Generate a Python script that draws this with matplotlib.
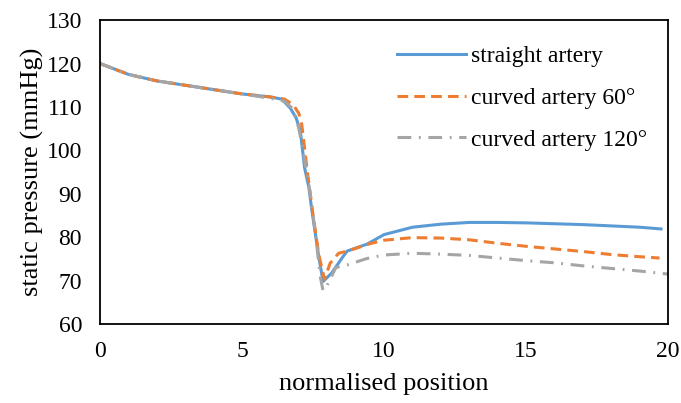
import matplotlib
matplotlib.use("Agg")
import matplotlib.pyplot as plt

# data
x_straight = [0, 1, 2, 3, 4, 5, 6, 6.4, 6.7, 6.9, 7.05, 7.2, 7.35, 7.45, 7.7, 7.85, 8.15, 8.55, 8.7,
              9.4, 10, 11, 12, 13, 14, 15, 16, 17, 18, 19, 19.75]
p_straight = [120, 117.5, 116, 115, 114, 113, 112.3, 111.8, 109.7, 107.5, 104.5, 96, 91.5, 86.5, 75.5, 69.8,
              71.7, 75.5, 76.8, 78.4, 80.6, 82.3, 83.0, 83.4, 83.4, 83.3, 83.1, 82.9, 82.6, 82.3, 81.9]

x_60 = [0, 1, 2, 3, 4, 5, 6, 6.5, 6.8, 7.0, 7.1, 7.3, 7.5, 7.7, 7.9, 8.1, 8.4, 8.8, 9.5, 10,
        11, 12, 13, 14, 15, 16, 17, 18, 19, 19.7]
p_60 = [120, 117.5, 116, 115, 114, 113, 112.3, 111.8, 110.5, 108.5, 106, 95, 85, 76, 70.3, 74, 76.3, 77,
        78.5, 79.3, 79.9, 79.8, 79.4, 78.6, 77.9, 77.3, 76.7, 76.0, 75.5, 75.2]

x_120 = [0, 1, 2, 3, 4, 5, 6, 6.5, 6.8, 7.0, 7.2, 7.4, 7.6, 7.75, 7.85, 8.0, 8.3, 8.7, 9.4, 10,
         11, 12, 13, 14, 15, 16, 17, 18, 19, 20]
p_120 = [120, 117.5, 116, 115, 114, 113, 112, 111.3, 109.5, 105, 98, 90, 80, 71, 67.7, 69, 73, 73.6,
         75.1, 75.9, 76.3, 76.1, 75.8, 75.2, 74.6, 74.1, 73.4, 72.8, 72.2, 71.5]

labels = ["straight artery", "curved artery 60°", "curved artery 120°"]
colors = ["#5B9BD5", "#ED7D31", "#A5A5A5"]

plt.rcParams['font.family'] = ['Liberation Serif', 'DejaVu Serif']

fig, ax = plt.subplots(figsize=(6.81, 4.03), dpi=100)
fig.subplots_adjust(left=0.147, right=0.981, top=0.950, bottom=0.196)

ax.plot(x_straight, p_straight, color=colors[0], lw=2.2, label=labels[0])
ax.plot(x_60, p_60, color=colors[1], lw=2.2, dashes=(3.5, 2), label=labels[1])
ax.plot(x_120, p_120, color=colors[2], lw=2.2, dashes=(4.5, 2.5, 0.6, 2.5), label=labels[2])

ax.set_xlim(0, 20)
ax.set_ylim(60, 130)
ax.set_xticks([0, 5, 10, 15, 20])
ax.set_yticks(range(60, 131, 10))
ax.tick_params(length=0, labelsize=17)
ax.tick_params(axis="y", pad=13)
ax.tick_params(axis="x", pad=12)
for s in ax.spines.values():
    s.set_linewidth(1.3)
    s.set_color("black")

ax.set_xlabel("normalised position", fontsize=19, labelpad=8)
ax.set_ylabel("static pressure (mmHg)", fontsize=19, labelpad=2)

ax.legend(loc="upper right", bbox_to_anchor=(1.0, 0.985), frameon=False, fontsize=17,
          handlelength=2.9, handletextpad=0.2, labelspacing=0.85)

fig.savefig("out.png", dpi=100)
